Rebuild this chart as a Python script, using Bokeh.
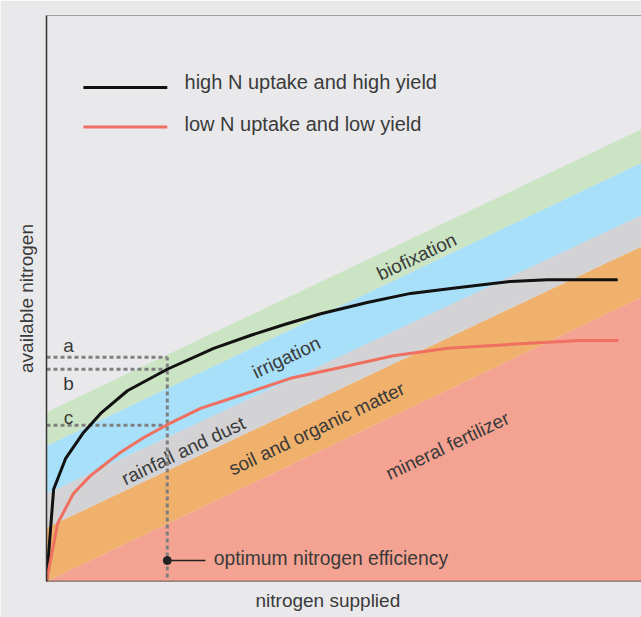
import math
from bokeh.plotting import figure
from bokeh.models import Range1d, Span, Title, FixedTicker
from bokeh.core.properties import value
from bokeh.embed import file_html
from bokeh.resources import INLINE

# ---------------- data (arbitrary units, 0-100 on both axes) ----------------
band_x = [0, 100]
mineral_top = [0.0, 50.2]
soil_top = [9.5, 59.2]
rain_top = [15.5, 64.7]
irrig_top = [24.0, 74.0]
biofix_top = [29.9, 79.9]

band_names = ["biofixation", "irrigation", "rainfall and dust",
              "soil and organic matter", "mineral fertilizer"]

high_x = [0, 1.2, 3.2, 6.2, 9.1, 13.6, 20.3, 28.1, 34.6, 40.0, 46.1, 53.9,
          61.2, 69.0, 78.0, 84.2, 96.0]
high_y = [0, 16.3, 21.7, 26.3, 29.7, 33.7, 37.5, 41.2, 43.6, 45.4, 47.3, 49.3,
          50.9, 51.9, 53.0, 53.3, 53.3]

low_x = [0, 1.85, 4.5, 7.4, 9.1, 12.4, 16.3, 20.3, 25.9, 32.6, 41.0, 49.4,
         58.3, 67.4, 78.0, 89.7, 96.1]
low_y = [0, 10.2, 15.5, 18.7, 20.1, 22.8, 25.4, 27.7, 30.6, 32.9, 35.9, 37.8,
         39.9, 41.2, 41.9, 42.6, 42.6]

opt_x = 20.3           # optimum nitrogen efficiency (x)
level_names = ["a", "b", "c"]
level_y = [39.6, 37.5, 27.6]   # dashed reference levels

series_names = ["high N uptake and high yield", "low N uptake and low yield"]

# ---------------- styles ----------------
BG = "#e9e9ec"
TXT = "#3a3a3a"
FONT = value("Liberation Sans")
col_bands = {"mineral": "#f4a291", "soil": "#efb16b", "rain": "#d3d3d5",
             "irrig": "#a8dff9", "biofix": "#cbe4c4"}
col_high = "#111111"
col_low = "#ef6f60"

p = figure(width=641, height=617, output_backend="svg", toolbar_location=None,
           x_range=Range1d(0, 100), y_range=Range1d(0, 100),
           min_border_left=46, min_border_right=0, min_border_top=15,
           min_border_bottom=36)
p.background_fill_color = BG
p.border_fill_color = BG
p.outline_line_color = None
p.xaxis.visible = False
p.grid.visible = False

ya = p.yaxis[0]
ya.ticker = FixedTicker(ticks=[])
ya.axis_label = "available nitrogen"
ya.axis_label_text_font = "Liberation Sans"
ya.axis_label_text_font_size = "19px"
ya.axis_label_text_font_style = "normal"
ya.axis_label_text_color = TXT
ya.axis_label_standoff = 10
ya.major_label_standoff = 0
ya.major_tick_line_color = None
ya.minor_tick_line_color = None
ya.major_tick_out = 0
ya.minor_tick_out = 0
ya.axis_line_color = "#333333"
ya.axis_line_width = 1.5

# bands
p.varea(x=band_x, y1=[0, 0], y2=mineral_top, fill_color=col_bands["mineral"])
p.varea(x=band_x, y1=mineral_top, y2=soil_top, fill_color=col_bands["soil"])
p.varea(x=band_x, y1=soil_top, y2=rain_top, fill_color=col_bands["rain"])
p.varea(x=band_x, y1=rain_top, y2=irrig_top, fill_color=col_bands["irrig"])
p.varea(x=band_x, y1=irrig_top, y2=biofix_top, fill_color=col_bands["biofix"])

# band labels
ang = math.atan2(283, 595)
lab_x = [62.2, 40.3, 23.0, 45.4, 67.4]
lab_y = [57.4, 39.6, 23.1, 27.0, 24.0]
p.text(x=lab_x, y=lab_y, text=band_names, angle=ang, text_align="center",
       text_baseline="middle", text_font=FONT, text_font_size="19px",
       text_color=TXT)

# dashed reference lines
dash = dict(line_color="#7f7f7f", line_width=3, line_dash="4 3")
p.segment(x0=[0] * 3, y0=level_y, x1=[opt_x] * 3, y1=level_y, **dash)
p.segment(x0=[opt_x], y0=[0.7], x1=[opt_x], y1=[max(level_y)], **dash)
p.text(x=[3.7] * 3, y=[41.7, 35.0, 29.0], text=level_names, text_align="center",
       text_baseline="middle", text_font=FONT, text_font_size="19px",
       text_color=TXT)

# curves
p.line(high_x, high_y, line_color=col_high, line_width=3, line_join="round")
p.line(low_x, low_y, line_color=col_low, line_width=3, line_join="round")

# optimum marker
p.segment(x0=[opt_x], y0=[3.7], x1=[26.7], y1=[3.7], line_color="#222222",
          line_width=1.5)
p.scatter(x=[opt_x], y=[3.7], size=8, color="#222222")
p.text(x=[28.1], y=[4.0], text=["optimum nitrogen efficiency"],
       text_baseline="middle", text_font=FONT, text_font_size="19.3px",
       text_color=TXT)

# legend
p.segment(x0=[6.2, 6.2], y0=[87.3, 80.3], x1=[20.3, 20.3], y1=[87.3, 80.3],
          line_color=[col_high, col_low], line_width=3)
p.text(x=[23.2, 23.2], y=[88.2, 80.9], text=series_names,
       text_baseline="middle", text_font=FONT, text_font_size="20px",
       text_color=TXT)

# frame lines
p.add_layout(Span(location=0, dimension="width", line_color="#333333", line_width=1.5))
p.add_layout(Span(location=100, dimension="width", line_color="#555555", line_width=1.2))

# x title
p.add_layout(Title(text="nitrogen supplied", align="left", offset=209,
                   text_font="Liberation Sans", text_font_size="19px",
                   text_font_style="normal", text_color=TXT, standoff=13),
             "below")

open("out.html", "w").write(file_html(p, INLINE))
